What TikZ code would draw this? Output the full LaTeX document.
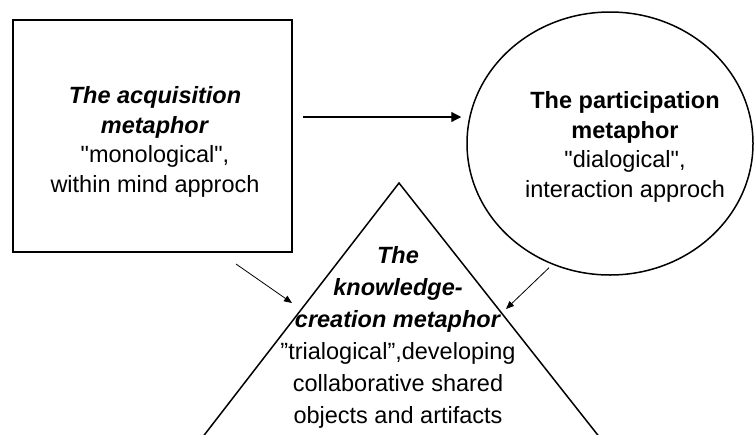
\documentclass[tikz,border=0pt]{standalone}
\usepackage{fontspec}
\setmainfont{Liberation Sans}
\usetikzlibrary{shapes.geometric,arrows.meta}

\begin{document}
\begin{tikzpicture}[x=1pt,y=-1pt,
  metabox/.style={draw,line width=2pt,minimum width=279pt,minimum height=232pt},
  metaell/.style={draw,ellipse,line width=1.5pt,minimum width=286pt,minimum height=263pt},
  metatext/.style={align=center,font=\fontsize{23.5}{29.5}\selectfont},
  bigarr/.style={-{Triangle[length=10pt,width=10pt]},line width=1.2pt},
  smallarr/.style={-{Triangle[length=8pt,width=6.5pt]},line width=0.8pt}]
\useasboundingbox (0,0) rectangle (754,434);
% the three metaphors
\node[metabox] (acq) at (152.5,136) {};
\node[metatext] (acqtext) at (155,142)
  {\textbf{\textit{The acquisition}}\\\textbf{\textit{metaphor}}\\\textquotedbl monological\textquotedbl,\\within mind approch};
\node[metaell] (part) at (610,143.5) {};
\node[metatext] (parttext) at (625,147)
  {\textbf{The participation}\\\textbf{metaphor}\\\textquotedbl dialogical\textquotedbl,\\interaction approch};
\coordinate (apex) at (399,183);
\coordinate (kbl) at (200.4,440);
\coordinate (kbr) at (601.7,440);
\draw[line width=1.5pt] (kbl) -- (apex) -- (kbr);
\node[metatext,font=\fontsize{23.5}{32}\selectfont] (know) at (398,337)
  {\textbf{\textit{The}}\\\textbf{\textit{knowledge-}}\\\textbf{\textit{creation metaphor}}\\
   ”trialogical”,developing\\collaborative shared\\objects and artifacts};
% arrows
\coordinate (kl) at (292,303);
\coordinate (kr) at (506,309);
\draw[bigarr] ([xshift=10pt,yshift=19pt]acq.east) -- ([xshift=-5pt,yshift=26.5pt]part.west);
\draw[smallarr] ([xshift=-57pt,yshift=-11pt]acq.south east) -- (kl);
\draw[smallarr] ([xshift=-61pt,yshift=8pt]part.south) -- (kr);
\end{tikzpicture}
\end{document}
